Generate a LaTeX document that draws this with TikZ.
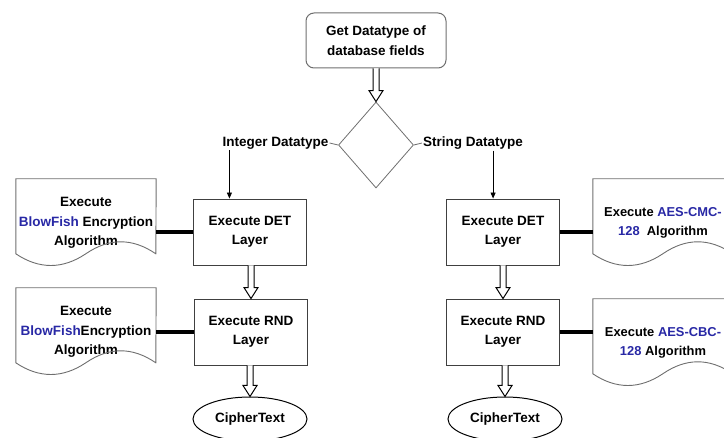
\documentclass[tikz,border=0pt]{standalone}
\usepackage{fontspec}
\setmainfont{Liberation Sans}
\usetikzlibrary{shapes.geometric, arrows.meta, positioning}

\definecolor{algblue}{RGB}{40,40,165}
\definecolor{edgegray}{RGB}{110,110,110}

\tikzset{
  every node/.style={font=\bfseries\fontsize{13.5}{19.5}\selectfont, align=center},
  process/.style={draw=black!75, line width=0.9pt, minimum width=113pt, minimum height=66pt, inner sep=0pt},
  startbox/.style={draw=edgegray, rounded corners=8pt, line width=1pt, minimum width=140pt, minimum height=55pt, inner sep=0pt},
  decision/.style={diamond, draw=edgegray, line width=0.8pt, minimum width=75pt, minimum height=86pt, inner sep=0pt},
  doc/.style={minimum width=140pt, minimum height=88pt, inner sep=0pt},
  narrowdoc/.style={doc, font=\bfseries\fontsize{12.9}{19.5}\selectfont},
  docline/.style={draw=edgegray, line width=0.9pt},
  terminal/.style={ellipse, draw=black, line width=1pt, minimum width=114pt, minimum height=44pt, inner sep=0pt},
  typelabel/.style={inner sep=1pt},
  blockarrow/.style={draw=black, fill=white, line width=1pt, line join=miter},
  branch/.style={line width=0.8pt, -{Triangle[length=6pt, width=5pt]}},
  link/.style={line width=4pt},
}

% document outline with wavy bottom
\newcommand{\docshape}[1]{%
  \draw[docline] (#1.north west) -- (#1.north east) -- ([shift={(140,75)}]#1.north west)
    .. controls ([shift={(116.7,59)}]#1.north west) and ([shift={(93.3,59)}]#1.north west) .. ([shift={(70,75)}]#1.north west)
    .. controls ([shift={(46.7,90.6)}]#1.north west) and ([shift={(23.3,90.6)}]#1.north west) .. ([shift={(0,75)}]#1.north west)
    -- cycle;}
% downward block arrow: hollow shaft, open head
\newcommand{\hollowarrow}[2]{%
  \path (#1) coordinate (ha) (#2) coordinate (hb);
  \draw[blockarrow] ([xshift=-3pt]ha) -- ([xshift=-3pt, yshift=11pt]hb) -- ([xshift=-7pt, yshift=11pt]hb)
    -- (hb) -- ([xshift=7pt, yshift=11pt]hb) -- ([xshift=3pt, yshift=11pt]hb) -- ([xshift=3pt]ha);}

\begin{document}
\begin{tikzpicture}[x=1pt, y=-1pt]
  \useasboundingbox (0,0) rectangle (724,438);
  \clip (0,0) rectangle (724,438);

  \node[startbox] (get) at (376,40.5) {Get Datatype of\\database fields};
  \node[decision] (dec) at (376,145) {};
  \node[typelabel] (intlbl) at (275.5,143) {Integer Datatype};
  \node[typelabel] (strlbl) at (473,143) {String Datatype};

  % left branch
  \node[process] (detL) at (250,232) {Execute DET\\Layer};
  \node[process] (rndL) at (251,332) {Execute RND\\Layer};
  \node[terminal] (cipherL) at (250,419) {CipherText};
  \node[doc] (docUL) at (86,223) {Execute\\\textcolor{algblue}{BlowFish} Encryption\\Algorithm};
  \node[doc] (docLL) at (86,332) {Execute\\\textcolor{algblue}{BlowFish}Encryption\\Algorithm};

  % right branch
  \node[process] (detR) at (503,232) {Execute DET\\Layer};
  \node[process] (rndR) at (503,332) {Execute RND\\Layer};
  \node[terminal] (cipherR) at (505,419) {CipherText};
  \node[narrowdoc] (docUR) at (663,223) {Execute \textcolor{algblue}{AES-CMC-}\\\textcolor{algblue}{128}~~Algorithm};
  \node[narrowdoc] (docLR) at (663,343) {Execute \textcolor{algblue}{AES-CBC-}\\\textcolor{algblue}{128} Algorithm};

  \docshape{docUL} \docshape{docLL} \docshape{docUR} \docshape{docLR}

  \hollowarrow{get.south}{dec.north}
  \draw[edgegray, line width=0.8pt] (dec.west) -- (intlbl.east);
  \draw[edgegray, line width=0.8pt] (dec.east) -- (strlbl.west);
  \draw[branch] ([xshift=8pt]intlbl.south west) -- ([xshift=8pt]intlbl.south west |- detL.north);
  \draw[branch] ([xshift=-31pt]strlbl.south east) -- ([xshift=-31pt]strlbl.south east |- detR.north);

  \hollowarrow{detL.south -| rndL.north}{rndL.north}
  \hollowarrow{rndL.south -| cipherL.north}{cipherL.north}
  \hollowarrow{detR.south}{rndR.north}
  \hollowarrow{rndR.south -| cipherR.north}{cipherR.north}

  \draw[link] (detL.west) -- (docUL.east |- detL.west);
  \draw[link] (rndL.west) -- (docLL.east |- rndL.west);
  \draw[link] (detR.east) -- (docUR.west |- detR.east);
  \draw[link] (rndR.east) -- (docLR.west |- rndR.east);
\end{tikzpicture}
\end{document}
